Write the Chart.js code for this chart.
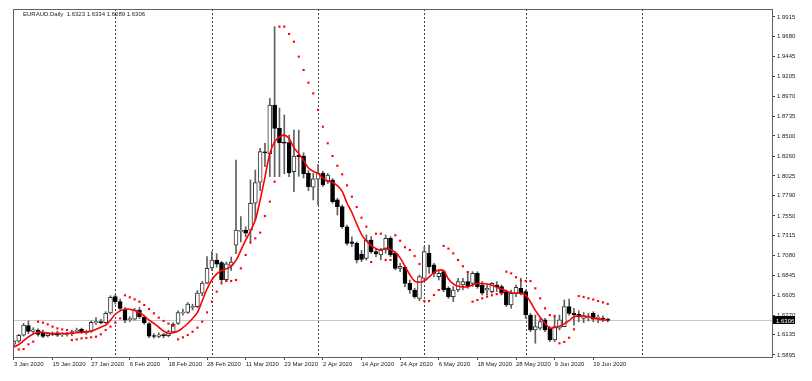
<!DOCTYPE html>
<html><head><meta charset="utf-8">
<script src="https://cdn.jsdelivr.net/npm/chart.js@4/dist/chart.umd.min.js"></script>
<style>html,body{margin:0;padding:0;background:#fff;}#wrap{width:812px;height:381px;}</style>
</head><body><div id="wrap"><canvas id="c" width="812" height="381"></canvas></div>
<script>
const symbolName = "EURAUD.Daily";
const dates = [
"3 Jan 2020","6 Jan 2020","7 Jan 2020","8 Jan 2020","9 Jan 2020","10 Jan 2020","13 Jan 2020","14 Jan 2020","15 Jan 2020","16 Jan 2020","17 Jan 2020","20 Jan 2020","21 Jan 2020","22 Jan 2020","23 Jan 2020","24 Jan 2020","27 Jan 2020","28 Jan 2020","29 Jan 2020","30 Jan 2020","31 Jan 2020",
"3 Feb 2020","4 Feb 2020","5 Feb 2020","6 Feb 2020","7 Feb 2020","10 Feb 2020","11 Feb 2020","12 Feb 2020","13 Feb 2020","14 Feb 2020","17 Feb 2020","18 Feb 2020","19 Feb 2020","20 Feb 2020","21 Feb 2020","24 Feb 2020","25 Feb 2020","26 Feb 2020","27 Feb 2020","28 Feb 2020",
"2 Mar 2020","3 Mar 2020","4 Mar 2020","5 Mar 2020","6 Mar 2020","9 Mar 2020","10 Mar 2020","11 Mar 2020","12 Mar 2020","13 Mar 2020","16 Mar 2020","17 Mar 2020","18 Mar 2020","19 Mar 2020","20 Mar 2020","23 Mar 2020","24 Mar 2020","25 Mar 2020","26 Mar 2020","27 Mar 2020","30 Mar 2020","31 Mar 2020",
"1 Apr 2020","2 Apr 2020","3 Apr 2020","6 Apr 2020","7 Apr 2020","8 Apr 2020","9 Apr 2020","10 Apr 2020","13 Apr 2020","14 Apr 2020","15 Apr 2020","16 Apr 2020","17 Apr 2020","20 Apr 2020","21 Apr 2020","22 Apr 2020","23 Apr 2020","24 Apr 2020","27 Apr 2020","28 Apr 2020","29 Apr 2020","30 Apr 2020",
"1 May 2020","4 May 2020","5 May 2020","6 May 2020","7 May 2020","8 May 2020","11 May 2020","12 May 2020","13 May 2020","14 May 2020","15 May 2020","18 May 2020","19 May 2020","20 May 2020","21 May 2020","22 May 2020","25 May 2020","26 May 2020","27 May 2020","28 May 2020","29 May 2020",
"1 Jun 2020","2 Jun 2020","3 Jun 2020","4 Jun 2020","5 Jun 2020","8 Jun 2020","9 Jun 2020","10 Jun 2020","11 Jun 2020","12 Jun 2020","15 Jun 2020","16 Jun 2020","17 Jun 2020","18 Jun 2020","19 Jun 2020","22 Jun 2020","23 Jun 2020","24 Jun 2020"];

const opens = [
1.6025,1.6060,1.6130,1.6245,1.6175,1.6190,1.6165,1.6125,1.6150,1.6160,
1.6135,1.6140,1.6145,1.6175,1.6200,1.6160,1.6175,1.6280,1.6290,1.6280,
1.6395,1.6590,1.6530,1.6440,1.6315,1.6320,1.6430,1.6345,1.6270,1.6125,
1.6115,1.6130,1.6125,1.6170,1.6270,1.6395,1.6400,1.6460,1.6470,1.6630,
1.6750,1.6930,1.7025,1.6995,1.6790,1.6960,1.7200,1.7365,1.7380,1.7380,
1.7700,1.7950,1.8305,1.8290,1.8868,1.8590,1.8420,1.8420,1.8075,1.8270,
1.8262,1.8055,1.7890,1.7985,1.8055,1.7960,1.7975,1.7740,1.7660,1.7420,
1.7240,1.7223,1.7095,1.7045,1.7263,1.7124,1.7085,1.7144,1.7283,1.7104,
1.6926,1.6938,1.6747,1.6668,1.6569,1.6807,1.7104,1.6966,1.6827,1.6886,
1.6688,1.6589,1.6668,1.6728,1.6767,1.6747,1.6866,1.6728,1.6668,1.6648,
1.6728,1.6708,1.6648,1.6490,1.6629,1.6688,1.6648,1.6371,1.6193,1.6213,
1.6312,1.6213,1.6074,1.6213,1.6232,1.6470,1.6391,1.6380,1.6330,1.6340,
1.6390,1.6330,1.6325,1.6323];
const highs = [
1.6070,1.6140,1.6270,1.6300,1.6220,1.6205,1.6190,1.6165,1.6170,1.6180,
1.6160,1.6165,1.6190,1.6215,1.6215,1.6190,1.6300,1.6340,1.6320,1.6410,
1.6600,1.6610,1.6560,1.6460,1.6350,1.6450,1.6460,1.6360,1.6280,1.6150,
1.6160,1.6150,1.6190,1.6280,1.6420,1.6440,1.6520,1.6500,1.6660,1.6770,
1.7065,1.7125,1.7100,1.7010,1.7000,1.7060,1.8214,1.7540,1.7420,1.7976,
1.8095,1.8353,1.8413,1.8947,1.9800,1.8830,1.8750,1.8510,1.8570,1.8570,
1.8300,1.8090,1.8055,1.8160,1.8080,1.8055,1.7995,1.7760,1.7680,1.7440,
1.7300,1.7240,1.7140,1.7323,1.7303,1.7164,1.7164,1.7323,1.7303,1.7124,
1.6985,1.6946,1.6787,1.6688,1.6846,1.7183,1.7203,1.6985,1.6906,1.6906,
1.6708,1.6708,1.6807,1.6807,1.6886,1.6886,1.6886,1.6767,1.6728,1.6757,
1.6767,1.6728,1.6668,1.6668,1.6728,1.6807,1.6668,1.6391,1.6371,1.6331,
1.6331,1.6232,1.6351,1.6371,1.6550,1.6560,1.6450,1.6420,1.6400,1.6390,
1.6410,1.6370,1.6360,1.6334];
const lows = [
1.6000,1.6045,1.6120,1.6150,1.6150,1.6120,1.6100,1.6110,1.6125,1.6115,
1.6115,1.6120,1.6125,1.6160,1.6150,1.6140,1.6165,1.6260,1.6265,1.6270,
1.6380,1.6500,1.6430,1.6280,1.6290,1.6310,1.6330,1.6260,1.6100,1.6095,
1.6100,1.6100,1.6110,1.6160,1.6260,1.6370,1.6390,1.6430,1.6460,1.6600,
1.6740,1.6900,1.6940,1.6760,1.6770,1.6900,1.7100,1.7240,1.7300,1.7240,
1.7500,1.7850,1.8135,1.8016,1.8016,1.8016,1.8050,1.8016,1.7838,1.8020,
1.8000,1.7850,1.7740,1.7680,1.7900,1.7935,1.7700,1.7560,1.7400,1.7200,
1.7183,1.6990,1.7005,1.7025,1.7104,1.7065,1.7025,1.7104,1.7065,1.6906,
1.6886,1.6708,1.6628,1.6569,1.6541,1.6787,1.6866,1.6827,1.6787,1.6648,
1.6569,1.6530,1.6648,1.6668,1.6688,1.6708,1.6688,1.6609,1.6609,1.6629,
1.6648,1.6609,1.6470,1.6450,1.6589,1.6609,1.6331,1.6173,1.6035,1.6193,
1.6173,1.6054,1.6054,1.6193,1.6232,1.6370,1.6250,1.6290,1.6280,1.6300,
1.6290,1.6280,1.6290,1.6289];
const closes = [
1.6060,1.6130,1.6250,1.6175,1.6195,1.6140,1.6115,1.6150,1.6140,1.6130,
1.6140,1.6150,1.6175,1.6190,1.6160,1.6175,1.6285,1.6290,1.6280,1.6390,
1.6580,1.6530,1.6450,1.6310,1.6325,1.6430,1.6350,1.6280,1.6120,1.6115,
1.6135,1.6125,1.6175,1.6260,1.6400,1.6405,1.6500,1.6470,1.6630,1.6750,
1.6925,1.7025,1.6975,1.6790,1.6980,1.7000,1.7380,1.7370,1.7345,1.7700,
1.7945,1.8313,1.8300,1.8868,1.8590,1.8420,1.8415,1.8064,1.8262,1.8250,
1.8048,1.7897,1.7990,1.8055,1.7917,1.8035,1.7719,1.7660,1.7420,1.7223,
1.7223,1.7025,1.7033,1.7263,1.7124,1.7097,1.7144,1.7283,1.7085,1.6926,
1.6950,1.6747,1.6668,1.6589,1.6827,1.7124,1.6946,1.6866,1.6866,1.6668,
1.6589,1.6668,1.6767,1.6767,1.6708,1.6866,1.6708,1.6629,1.6688,1.6747,
1.6708,1.6629,1.6490,1.6629,1.6699,1.6629,1.6371,1.6193,1.6232,1.6292,
1.6193,1.6074,1.6232,1.6312,1.6470,1.6391,1.6371,1.6350,1.6360,1.6350,
1.6320,1.6335,1.6322,1.6306];
const maValues = [
1.5990,1.6020,1.6065,1.6110,1.6145,1.6165,1.6165,1.6155,1.6150,1.6150,
1.6150,1.6150,1.6155,1.6160,1.6165,1.6170,1.6180,1.6200,1.6225,1.6250,
1.6310,1.6380,1.6420,1.6440,1.6440,1.6425,1.6400,1.6360,1.6310,1.6270,
1.6225,1.6180,1.6150,1.6160,1.6180,1.6220,1.6270,1.6330,1.6400,1.6540,
1.6680,1.6790,1.6860,1.6900,1.6920,1.6950,1.7020,1.7140,1.7260,1.7370,
1.7500,1.7740,1.8010,1.8290,1.8430,1.8490,1.8510,1.8470,1.8360,1.8290,
1.8210,1.8120,1.8080,1.8055,1.8000,1.7965,1.7945,1.7910,1.7840,1.7700,
1.7590,1.7455,1.7330,1.7250,1.7195,1.7160,1.7144,1.7165,1.7150,1.7115,
1.7050,1.6950,1.6850,1.6775,1.6760,1.6775,1.6825,1.6875,1.6905,1.6895,
1.6800,1.6740,1.6712,1.6705,1.6705,1.6730,1.6745,1.6745,1.6740,1.6725,
1.6700,1.6680,1.6655,1.6635,1.6629,1.6627,1.6605,1.6525,1.6425,1.6343,
1.6272,1.6215,1.6222,1.6238,1.6265,1.6305,1.6350,1.6360,1.6358,1.6350,
1.6335,1.6322,1.6315,1.6310];
const sarValues = [
null,1.5962,1.5965,1.6022,1.6054,1.6291,1.6280,1.6260,1.6232,1.6212,
1.6200,1.6192,1.6073,1.6081,1.6093,1.6097,1.6105,1.6113,1.6141,1.6192,
1.6232,1.6280,1.6330,1.6605,1.6581,1.6557,1.6529,1.6490,1.6442,1.6391,
1.6339,1.6300,1.6268,1.6240,1.6081,1.6105,1.6133,1.6172,1.6220,1.6291,
1.6402,1.6529,1.6648,1.6747,1.6775,1.6775,1.6787,1.6926,1.7085,1.7231,
1.7283,1.7350,1.7548,1.7719,1.7956,1.9800,1.9800,1.9713,1.9621,1.9443,
1.9285,1.9134,1.9007,1.8809,1.8610,1.8413,1.8262,1.8146,1.8044,1.7913,
1.7778,1.7655,1.7528,1.7421,1.7001,1.7338,1.7338,1.7025,1.7025,1.7319,
1.7254,1.7176,1.7144,1.7073,1.6977,1.6537,1.6537,1.6609,1.6668,1.7192,
1.7160,1.7104,1.7025,1.6950,1.6882,1.6529,1.6549,1.6569,1.6589,1.6605,
1.6620,1.6630,1.6886,1.6866,1.6820,1.6779,1.6775,1.6775,1.6688,1.6569,
1.6450,1.6370,1.6360,1.6034,1.6050,1.6100,1.6200,1.6595,1.6585,1.6570,
1.6555,1.6537,1.6521,1.6502];
const yTickValues = [1.9915,1.9680,1.9445,1.9205,1.8970,1.8735,1.8500,1.8260,1.8025,1.7790,1.7550,1.7315,1.7080,1.6845,1.6605,1.6370,1.6135,1.5895];
const xTickIndex = [0,8,16,24,32,40,48,56,64,72,80,88,96,104,112,120];
const monthStartIdx = [21,41,63,85,106,130];
const bidPrice = 1.6306;

const FONT = 'Liberation Sans';
const idx = dates.map((d,i)=>i);
const wickData = idx.map(i=>({x:i, y:[lows[i], highs[i]]}));
const bodyData = idx.map(i=>({x:i, y:[Math.min(opens[i],closes[i]), Math.max(opens[i],closes[i])]}));
const bodyFill = idx.map(i=> closes[i] >= opens[i] ? '#ffffff' : '#000000');
const bodyEdge = idx.map(i=> closes[i] >= opens[i] ? '#333333' : '#000000');
const maData = idx.map(i=>({x:i, y:maValues[i]}));
const sarData = idx.filter(i=>sarValues[i]!==null).map(i=>({x:i, y:sarValues[i]}));
const f4 = v=>v.toFixed(4);

const overlay = {
  id:'overlay',
  beforeDatasetsDraw(chart){
    const {ctx, chartArea:a, scales:{x,y}} = chart;
    ctx.save();
    const by = Math.round(y.getPixelForValue(bidPrice))+0.5;
    ctx.strokeStyle='#c8c8c8'; ctx.lineWidth=1;
    ctx.beginPath(); ctx.moveTo(a.left,by); ctx.lineTo(a.right,by); ctx.stroke();
    ctx.setLineDash([2,2]); ctx.strokeStyle='#404040';
    for (const s of monthStartIdx){
      const px = Math.round(x.getPixelForValue(s))+0.5;
      ctx.beginPath(); ctx.moveTo(px,a.top); ctx.lineTo(px,a.bottom); ctx.stroke();
    }
    ctx.restore();
  },
  afterDraw(chart){
    const {ctx, chartArea:a, scales:{y}} = chart;
    ctx.save();
    ctx.strokeStyle='#606060'; ctx.lineWidth=1;
    ctx.strokeRect(a.left+0.5, a.top+0.5, a.right-a.left, a.bottom-a.top);
    const n = opens.length-1;
    ctx.font = '6px "'+FONT+'"'; ctx.fillStyle='#222'; ctx.textBaseline='middle'; ctx.textAlign='left';
    ctx.fillText(symbolName+'  '+f4(opens[n])+' '+f4(highs[n])+' '+f4(lows[n])+' '+f4(closes[n]), 23, 14.5);
    const by = y.getPixelForValue(bidPrice);
    ctx.fillStyle='#000'; ctx.fillRect(a.right+1, Math.round(by)-4, 22, 8);
    ctx.fillStyle='#fff'; ctx.fillText(f4(bidPrice), a.right+4, by+0.5);
    ctx.restore();
  }
};

new Chart(document.getElementById('c'), {
  type:'bar',
  data:{ datasets:[
    {type:'line', label:'MA', data:maData, borderColor:'#ff0000', borderWidth:1.6, pointRadius:0, tension:0.35, order:0},
    {type:'scatter', label:'SAR', data:sarData, pointStyle:'rect', pointRadius:1.5, backgroundColor:'#ff0000', borderWidth:0, order:1},
    {label:'Bodies', data:bodyData, backgroundColor:bodyFill, borderColor:bodyEdge, borderWidth:1, borderSkipped:false, barThickness:4, minBarLength:1, grouped:false, order:2},
    {label:'Wicks', data:wickData, backgroundColor:'#606060', borderWidth:0, barThickness:1, grouped:false, order:3}
  ]},
  options:{
    responsive:false, devicePixelRatio:1, animation:false, events:[],
    layout:{padding:{left:13, top:9, right:0, bottom:0}},
    plugins:{legend:{display:false}, tooltip:{enabled:false}, title:{display:false}},
    scales:{
      x:{type:'linear', min:-0.19, max:157.02, offset:false,
        afterFit(s){ s.height = 24; },
        afterBuildTicks(s){ s.ticks = xTickIndex.map(v=>({value:v})); },
        grid:{display:true, drawOnChartArea:false, drawTicks:true, tickLength:3, color:'#404040', offset:false},
        border:{display:true, color:'#606060'},
        ticks:{autoSkip:false, maxRotation:0, align:'start', padding:1, color:'#222', font:{family:FONT, size:6},
          callback:(v)=>dates[v] }
      },
      y:{position:'right', min:1.58712, max:2.00101,
        afterFit(s){ s.width = 40; },
        afterBuildTicks(s){ s.ticks = yTickValues.map(v=>({value:v})); },
        grid:{display:true, drawOnChartArea:false, drawTicks:true, tickLength:3, color:'#404040'},
        border:{display:true, color:'#606060'},
        ticks:{padding:2, color:'#222', font:{family:FONT, size:6}, callback:(v)=>Number(v).toFixed(4)}
      }
    }
  },
  plugins:[overlay]
});
</script></body></html>
